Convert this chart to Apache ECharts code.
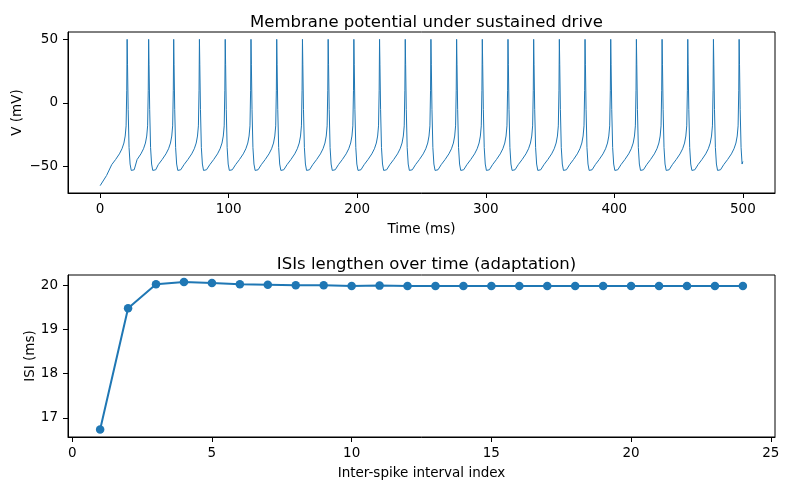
<!DOCTYPE html>
<html>
<head>
<meta charset="utf-8">
<script src="https://cdn.jsdelivr.net/npm/echarts@6/dist/echarts.min.js"></script>
<style>
  html, body { margin: 0; padding: 0; background: #fff; }
  #chart { width: 789px; height: 490px; }
</style>
</head>
<body>
<div id="chart"></div>
<script>
// spike peak times (ms)
const spikeTimes = [21.0, 37.74, 57.22, 77.24, 97.31, 117.36, 137.38, 157.39, 177.39, 197.39,
  217.37, 237.36, 257.34, 277.32, 297.30, 317.28, 337.26, 357.24, 377.22, 397.20,
  417.18, 437.16, 457.14, 477.12, 497.10]

// shape around each spike (ms relative to peak, mV)
const preOffsets = [-12, -9, -6, -4, -2.5, -1.5, -0.8, -0.3, 0]
const preV = [-48.5, -44.5, -40, -36, -31.5, -26, -18, 10, 50]
const postOffsets = [0.3, 0.8, 1.5, 2.3, 3.2, 4.2, 5.5]
const postV = [30, -5, -35, -48, -53, -54.5, -52.5]

// start of the trace and the last sample
const startT = [0, 5]
const startV = [-65, -57]
const endT = 500
const endV = -46

// ISI panel
const isiIndex = [1, 2, 3, 4, 5, 6, 7, 8, 9, 10, 11, 12, 13, 14, 15, 16, 17, 18, 19, 20, 21, 22, 23, 24]
const isiMs = [16.74, 19.48, 20.02, 20.07, 20.05, 20.02, 20.01, 20.00, 20.00, 19.98, 19.99, 19.98,
  19.98, 19.98, 19.98, 19.98, 19.98, 19.98, 19.98, 19.98, 19.98, 19.98, 19.98, 19.98]

const timeTicks = [0, 100, 200, 300, 400, 500]
const vTicks = [-50, 0, 50]
const idxTicks = [0, 5, 10, 15, 20, 25]
const isiTicks = [17, 18, 19, 20]

// build the trace from the read points
const trace = []
startT.forEach((t, i) => trace.push([t, startV[i]]))
spikeTimes.forEach(ts => {
    const last = trace[trace.length - 1][0]
    preOffsets.forEach((o, i) => {
        if (ts + o > last + 0.5) trace.push([ts + o, preV[i]])
    })
    postOffsets.forEach((o, i) => {
        if (ts + o < endT) trace.push([ts + o, postV[i]])
    })
})
trace.push([endT, endV])

const blue = '#1f77b4'
const font = 'DejaVu Sans'
const minus = v => (v < 0 ? '\u2212' + Math.abs(v) : String(v))

const axisCommon = {
    axisLine: { show: true, onZero: false, lineStyle: { color: '#000', width: 1 } },
    axisTick: { show: true, inside: false, length: 5, lineStyle: { color: '#000', width: 1 } },
    splitLine: { show: false },
    nameMoveOverlap: false,
    nameTextStyle: { color: '#000', fontSize: 13.5, fontFamily: font },
}
const labelCommon = { color: '#000', fontSize: 13.5, fontFamily: font }

const myChart = echarts.init(document.getElementById('chart'), null, { renderer: 'canvas' })
myChart.setOption({
    animation: false,
    backgroundColor: '#fff',
    title: [
        { text: 'Membrane potential under sustained drive', left: 421.5, top: 9, textAlign: 'center',
          textStyle: { fontSize: 16.5, fontWeight: 'normal', color: '#000', fontFamily: font } },
        { text: 'ISIs lengthen over time (adaptation)', left: 421.5, top: 251, textAlign: 'center',
          textStyle: { fontSize: 16.5, fontWeight: 'normal', color: '#000', fontFamily: font } }
    ],
    grid: [
        { left: 68, right: 14, top: 32, height: 161, outerBoundsMode: 'none', containLabel: false,
          show: true, borderColor: '#000', borderWidth: 1, backgroundColor: 'transparent' },
        { left: 68, right: 14, top: 275, height: 162, outerBoundsMode: 'none', containLabel: false,
          show: true, borderColor: '#000', borderWidth: 1, backgroundColor: 'transparent' }
    ],
    xAxis: [
        { ...axisCommon, type: 'value', gridIndex: 0, min: -25, max: 525,
          name: 'Time (ms)', nameLocation: 'middle', nameGap: 29,
          axisTick: { ...axisCommon.axisTick, customValues: timeTicks },
          axisLabel: { ...labelCommon, margin: 9, customValues: timeTicks, formatter: minus } },
        { ...axisCommon, type: 'value', gridIndex: 1, min: -0.15, max: 25.15,
          name: 'Inter-spike interval index', nameLocation: 'middle', nameGap: 29,
          axisTick: { ...axisCommon.axisTick, customValues: idxTicks },
          axisLabel: { ...labelCommon, margin: 9, customValues: idxTicks, formatter: minus } }
    ],
    yAxis: [
        { ...axisCommon, type: 'value', gridIndex: 0, min: -70.75, max: 55.75,
          name: 'V (mV)', nameLocation: 'middle', nameGap: 44,
          axisTick: { ...axisCommon.axisTick, customValues: vTicks },
          axisLabel: { ...labelCommon, margin: 10, customValues: vTicks, formatter: minus } },
        { ...axisCommon, type: 'value', gridIndex: 1, min: 16.57, max: 20.23,
          name: 'ISI (ms)', nameLocation: 'middle', nameGap: 31,
          axisTick: { ...axisCommon.axisTick, customValues: isiTicks },
          axisLabel: { ...labelCommon, margin: 10, customValues: isiTicks, formatter: minus } }
    ],
    series: [
        { type: 'line', xAxisIndex: 0, yAxisIndex: 0, data: trace, showSymbol: false,
          smooth: false, lineStyle: { color: blue, width: 1 } },
        { type: 'line', xAxisIndex: 1, yAxisIndex: 1,
          data: isiIndex.map((x, i) => [x, isiMs[i]]),
          symbol: 'circle', symbolSize: 8.5, showSymbol: true,
          itemStyle: { color: blue }, lineStyle: { color: blue, width: 2 } }
    ]
})
window.addEventListener('resize', () => myChart.resize())
</script>
</body>
</html>
